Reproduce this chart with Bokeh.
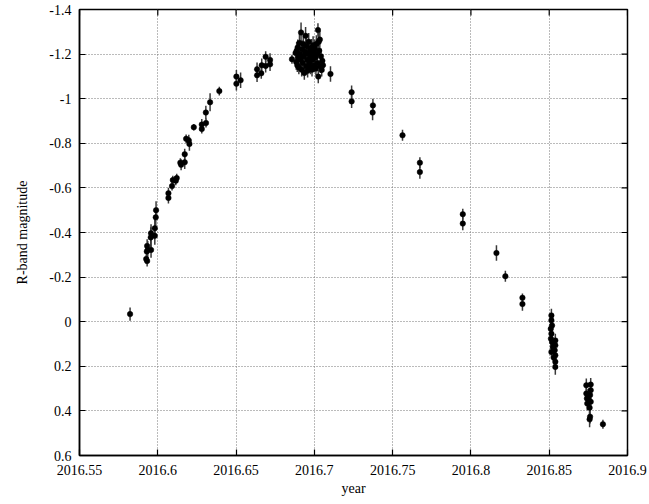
import numpy as np
from bokeh.plotting import figure
from bokeh.models import Range1d, FixedTicker, ColumnDataSource
from bokeh.embed import file_html
from bokeh.resources import INLINE

# ---- data: year, R-band magnitude, error ----
year_rise = [2016.5823, 2016.5926, 2016.5932, 2016.5930, 2016.5936, 2016.5932, 2016.5957,
             2016.5957, 2016.5955, 2016.5981, 2016.5981, 2016.5987, 2016.5989,
             2016.6068, 2016.6068, 2016.6091, 2016.6096, 2016.6115, 2016.6121,
             2016.6144, 2016.6149, 2016.6172, 2016.6172, 2016.6181, 2016.6198, 2016.6202,
             2016.6230, 2016.6281, 2016.6281, 2016.6308, 2016.6307, 2016.6334, 2016.6393,
             2016.6502, 2016.6502, 2016.6529,
             2016.6634, 2016.6634, 2016.6661, 2016.6664, 2016.6689, 2016.6689, 2016.6717,
             2016.6717, 2016.6857]
mag_rise = [-0.034, -0.281, -0.272, -0.315, -0.322, -0.340, -0.322,
            -0.397, -0.378, -0.419, -0.385, -0.468, -0.500,
            -0.576, -0.555, -0.608, -0.635, -0.632, -0.644,
            -0.713, -0.704, -0.715, -0.751, -0.820, -0.813, -0.797,
            -0.872, -0.884, -0.864, -0.891, -0.938, -0.984, -1.034,
            -1.099, -1.067, -1.083,
            -1.105, -1.132, -1.114, -1.150, -1.188, -1.147, -1.174,
            -1.154, -1.177]
err_rise = [0.030, 0.020, 0.025, 0.035, 0.040, 0.030, 0.035,
            0.040, 0.045, 0.045, 0.040, 0.040, 0.040,
            0.025, 0.025, 0.020, 0.020, 0.020, 0.020,
            0.020, 0.025, 0.030, 0.025, 0.020, 0.025, 0.030,
            0.015, 0.025, 0.020, 0.020, 0.030, 0.040, 0.020,
            0.030, 0.030, 0.035,
            0.030, 0.030, 0.025, 0.030, 0.025, 0.030, 0.030,
            0.030, 0.020]

year_peak = [2016.6880, 2016.6884, 2016.6887, 2016.6891, 2016.6894, 2016.6898, 2016.6901,
             2016.6905, 2016.6908, 2016.6915, 2016.6912, 2016.6919, 2016.6922, 2016.6926,
             2016.6929, 2016.6933, 2016.6936, 2016.6944, 2016.6940, 2016.6947, 2016.6950,
             2016.6954, 2016.6957, 2016.6961, 2016.6964, 2016.6968, 2016.6971, 2016.6975,
             2016.6978, 2016.6982, 2016.6985, 2016.6989, 2016.6992, 2016.6996, 2016.6999,
             2016.7003, 2016.7006, 2016.7010, 2016.7013, 2016.7017, 2016.7023, 2016.7020,
             2016.7025, 2016.7028, 2016.7031, 2016.7035, 2016.7038, 2016.7042, 2016.7047,
             2016.7051, 2016.7055]
mag_peak = [-1.205, -1.165, -1.215, -1.150, -1.230, -1.185, -1.140,
            -1.250, -1.200, -1.297, -1.175, -1.130, -1.222, -1.160,
            -1.245, -1.190, -1.115, -1.282, -1.210, -1.145, -1.235,
            -1.175, -1.125, -1.200, -1.255, -1.160, -1.218, -1.140,
            -1.190, -1.228, -1.130, -1.175, -1.240, -1.205, -1.150,
            -1.225, -1.185, -1.135, -1.245, -1.200, -1.308, -1.160,
            -1.099, -1.255, -1.215, -1.265, -1.145, -1.190, -1.129,
            -1.170, -1.150]
err_peak = [0.030, 0.035, 0.040, 0.030, 0.035, 0.040, 0.030,
            0.040, 0.035, 0.045, 0.030, 0.030, 0.040, 0.035,
            0.040, 0.035, 0.030, 0.040, 0.035, 0.030, 0.040,
            0.035, 0.030, 0.040, 0.040, 0.035, 0.040, 0.030,
            0.035, 0.040, 0.030, 0.035, 0.040, 0.035, 0.030,
            0.040, 0.035, 0.030, 0.040, 0.035, 0.030, 0.035,
            0.030, 0.040, 0.035, 0.040, 0.030, 0.035, 0.030,
            0.030, 0.030]

year_fall = [2016.7103, 2016.7238, 2016.7238, 2016.7374, 2016.7372, 2016.7563,
             2016.7674, 2016.7674, 2016.7948, 2016.7948, 2016.8163, 2016.8220,
             2016.8329, 2016.8329,
             2016.8514, 2016.8514, 2016.8518, 2016.8514, 2016.8511, 2016.8518, 2016.8523,
             2016.8514, 2016.8539, 2016.8539, 2016.8535, 2016.8539, 2016.8539, 2016.8539,
             2016.8530, 2016.8510,
             2016.8737, 2016.8737, 2016.8741, 2016.8743, 2016.8748, 2016.8765, 2016.8765,
             2016.8761, 2016.8765, 2016.8758, 2016.8761, 2016.8758, 2016.8754,
             2016.8843]
mag_fall = [-1.111, -1.029, -0.988, -0.970, -0.938, -0.836,
            -0.713, -0.671, -0.482, -0.440, -0.308, -0.204,
            -0.107, -0.079,
            -0.028, -0.006, 0.017, 0.054, 0.076, 0.091, 0.113,
            0.136, 0.084, 0.106, 0.128, 0.151, 0.180, 0.203,
            0.162, 0.032,
            0.285, 0.322, 0.344, 0.367, 0.332, 0.282, 0.307,
            0.329, 0.359, 0.386, 0.426, 0.438, 0.352,
            0.460]
err_fall = [0.035, 0.030, 0.030, 0.030, 0.035, 0.025,
            0.025, 0.030, 0.025, 0.030, 0.035, 0.025,
            0.020, 0.030,
            0.030, 0.030, 0.030, 0.030, 0.030, 0.030, 0.030,
            0.030, 0.030, 0.030, 0.030, 0.030, 0.030, 0.035,
            0.030, 0.030,
            0.030, 0.030, 0.030, 0.030, 0.030, 0.030, 0.030,
            0.030, 0.030, 0.030, 0.030, 0.035, 0.030,
            0.020]

x_ticks = [2016.55, 2016.6, 2016.65, 2016.7, 2016.75, 2016.8, 2016.85, 2016.9]
x_tick_labels = ["2016.55", "2016.6", "2016.65", "2016.7", "2016.75", "2016.8", "2016.85", "2016.9"]
y_ticks = [-1.4, -1.2, -1.0, -0.8, -0.6, -0.4, -0.2, 0.0, 0.2, 0.4, 0.6]
y_tick_labels = ["-1.4", "-1.2", "-1", "-0.8", "-0.6", "-0.4", "-0.2", "0", "0.2", "0.4", "0.6"]

# ---- build ----
year = np.array(year_rise + year_peak + year_fall)
mag = np.array(mag_rise + mag_peak + mag_fall)
err = np.array(err_rise + err_peak + err_fall)
src = ColumnDataSource(dict(x=year, y=mag, lo=mag - err, hi=mag + err))

X0, X1 = x_ticks[0], x_ticks[-1]
Y0, Y1 = y_ticks[-1], y_ticks[0]

FONT = "Liberation Serif"
FS = "14px"

p = figure(frame_width=548, frame_height=446, output_backend="svg", toolbar_location=None,
           x_range=Range1d(X0, X1), y_range=Range1d(Y0, Y1),
           min_border_left=79, min_border_top=9, min_border_right=20, min_border_bottom=10)
p.background_fill_color = "white"
p.border_fill_color = "white"
p.outline_line_color = "black"
p.outline_line_width = 1.5

xt = FixedTicker(ticks=x_ticks)
yt = FixedTicker(ticks=y_ticks)

p.grid[0].ticker = xt
p.grid[1].ticker = yt
for g in p.grid:
    g.grid_line_color = "#777777"
    g.grid_line_dash = "1 2"
    g.grid_line_width = 1

p.segment(x0="x", y0="lo", x1="x", y1="hi", source=src, line_color="#3a3a3a", line_width=1.5)
p.scatter(x="x", y="y", source=src, size=5.5, marker="circle", fill_color="black",
          line_color="black", line_width=0.5)

# mirrored inward ticks on top and right edges (dash markers clipped at the frame)
p.scatter(x=x_ticks, y=[Y1] * len(x_ticks), marker="dash", angle=np.pi / 2, size=12,
          line_color="black", line_width=1.2)
p.scatter(x=[X1] * len(y_ticks), y=y_ticks, marker="dash", size=12,
          line_color="black", line_width=1.2)

for ax, tk, labs in ((p.xaxis[0], xt, x_tick_labels), (p.yaxis[0], yt, y_tick_labels)):
    ax.ticker = tk
    ax.major_label_overrides = {t: l for t, l in zip(tk.ticks, labs)}
    ax.major_tick_in = 6
    ax.major_tick_out = 0
    ax.minor_tick_line_color = None
    ax.axis_line_width = 1.5
    ax.major_tick_line_width = 1.2
    ax.major_label_text_font = FONT
    ax.major_label_text_font_size = FS
    ax.major_label_text_color = "black"
    ax.axis_label_text_font = FONT
    ax.axis_label_text_font_size = FS
    ax.axis_label_text_font_style = "normal"
    ax.axis_label_text_color = "black"

p.xaxis[0].axis_label = "year"
p.xaxis[0].major_label_standoff = 9
p.xaxis[0].axis_label_standoff = 3
p.yaxis[0].axis_label = "R-band magnitude"
p.yaxis[0].major_label_standoff = 8
p.yaxis[0].axis_label_standoff = 16

open("out.html", "w").write(file_html(p, INLINE))
